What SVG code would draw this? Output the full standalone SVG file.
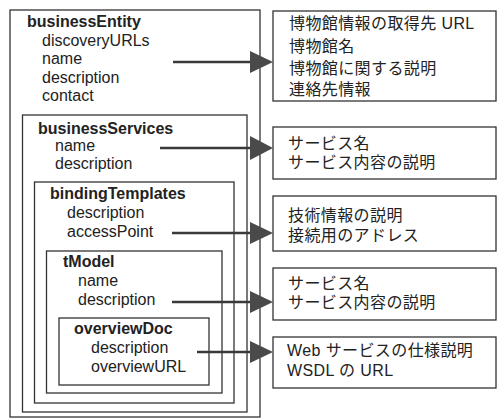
<svg xmlns="http://www.w3.org/2000/svg" width="498" height="418" viewBox="0 0 498 418">
<style>
.bx{fill:none;stroke:#333;stroke-width:1.3}
.t{font-family:"Liberation Sans",Arial,sans-serif;font-size:16px;fill:#222}
.b{font-weight:bold}
.j{font-family:"Liberation Sans","Noto Sans CJK JP",sans-serif;font-size:16px;letter-spacing:0.4px;fill:#222}
.ln{stroke:#3a3a3a;stroke-width:2.6;fill:none}
.hd{fill:#4a4a4a}
</style>
<rect width="498" height="418" fill="#fff"/>
<g id="businessEntity">
<rect class="bx" x="10" y="10" width="250" height="407"/>
<text class="t b" x="27" y="27">businessEntity</text>
<text class="t" x="42" y="46">discoveryURLs</text>
<text class="t" x="42" y="64">name</text>
<text class="t" x="42" y="83">description</text>
<text class="t" x="42" y="101">contact</text>
</g>
<g id="businessServices">
<rect class="bx" x="22.5" y="115" width="224.5" height="297"/>
<text class="t b" x="38" y="134">businessServices</text>
<text class="t" x="55" y="151">name</text>
<text class="t" x="55" y="169">description</text>
</g>
<g id="bindingTemplates">
<rect class="bx" x="34.5" y="182" width="199.5" height="221"/>
<text class="t b" x="50" y="199">bindingTemplates</text>
<text class="t" x="67" y="218">description</text>
<text class="t" x="67" y="237">accessPoint</text>
</g>
<g id="tModel">
<rect class="bx" x="46.5" y="251" width="175.5" height="142"/>
<text class="t b" x="63" y="267">tModel</text>
<text class="t" x="78" y="286">name</text>
<text class="t" x="78" y="305">description</text>
</g>
<g id="overviewDoc">
<rect class="bx" x="59" y="318" width="150" height="67"/>
<text class="t b" x="74" y="334">overviewDoc</text>
<text class="t" x="91" y="353">description</text>
<text class="t" x="91" y="372">overviewURL</text>
</g>
<g id="info1">
<rect class="bx" x="273" y="11" width="223" height="90"/>
<text class="j" x="289" y="29">博物館情報の取得先 URL</text>
<text class="j" x="289" y="52">博物館名</text>
<text class="j" x="289" y="74">博物館に関する説明</text>
<text class="j" x="289" y="95">連絡先情報</text>
</g>
<g id="info2">
<rect class="bx" x="273" y="127" width="223" height="52"/>
<text class="j" x="288" y="149">サービス名</text>
<text class="j" x="288" y="168">サービス内容の説明</text>
</g>
<g id="info3">
<rect class="bx" x="273" y="196" width="223" height="55"/>
<text class="j" x="288" y="221">技術情報の説明</text>
<text class="j" x="288" y="241">接続用のアドレス</text>
</g>
<g id="info4">
<rect class="bx" x="273" y="268" width="223" height="52"/>
<text class="j" x="288" y="289">サービス名</text>
<text class="j" x="288" y="308">サービス内容の説明</text>
</g>
<g id="info5">
<rect class="bx" x="273" y="337" width="223" height="51"/>
<text class="j" x="287" y="356">Web サービスの仕様説明</text>
<text class="j" x="287" y="376">WSDL の URL</text>
</g>
<g id="connectors">
<line class="ln" x1="173" y1="62" x2="252" y2="62"/>
<polygon class="hd" points="250,51 273,62 250,73"/>
<line class="ln" x1="160" y1="148" x2="252" y2="148"/>
<polygon class="hd" points="250,136 273,148 250,160"/>
<line class="ln" x1="172" y1="233" x2="252" y2="233"/>
<polygon class="hd" points="250,222 273,233 250,244"/>
<line class="ln" x1="172" y1="302" x2="252" y2="302"/>
<polygon class="hd" points="250,291 273,302 250,313"/>
<line class="ln" x1="197" y1="352" x2="252" y2="352"/>
<polygon class="hd" points="250,341 273,352 250,363"/>
</g>
</svg>
